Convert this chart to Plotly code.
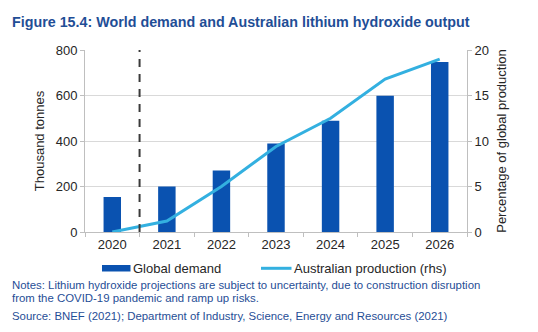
import plotly.graph_objects as go

years = ["2020", "2021", "2022", "2023", "2024", "2025", "2026"]
global_demand = [154, 200, 270, 389, 489, 599, 747]
aus_share = [0.0, 1.2, 5.0, 9.4, 12.5, 16.8, 19.0]

FONT = "Liberation Sans, Arial, sans-serif"
TXT = "#262626"
BLUE_T = "#1f4e96"
BAR_C = "#0a52b0"
LINE_C = "#33b0e0"

# plot area in pixels
L, R, T, B = 85, 467, 50, 232
PW, PH = R - L, B - T


def px(x):
    return (x - L) / PW


def py(y):
    return (B - y) / PH


fig = go.Figure()
fig.add_trace(go.Bar(x=years, y=global_demand, name="Global demand",
                     marker=dict(color=BAR_C, line=dict(width=0)),
                     width=0.32, showlegend=False))
fig.add_trace(go.Scatter(x=years, y=aus_share, name="Australian production (rhs)",
                         yaxis="y2", mode="lines", showlegend=False,
                         line=dict(color=LINE_C, width=3)))

fig.add_shape(type="line", xref="x", yref="y", x0=0.5, x1=0.5, y0=0, y1=800,
              line=dict(color="#3a3a3a", width=2, dash="8px,7px"))

# legend (drawn manually)
fig.add_shape(type="rect", xref="paper", yref="paper",
              x0=px(102), x1=px(130.5), y0=py(271.5), y1=py(265),
              fillcolor=BAR_C, line=dict(width=0))
fig.add_shape(type="line", xref="paper", yref="paper",
              x0=px(261), x1=px(291.5), y0=py(268.3), y1=py(268.3),
              line=dict(color=LINE_C, width=3))
fig.add_annotation(xref="paper", yref="paper", x=px(131), y=py(268), xanchor="left", yanchor="middle",
                   text="Global demand", showarrow=False,
                   font=dict(size=13, color=TXT, family=FONT))
fig.add_annotation(xref="paper", yref="paper", x=px(291.5), y=py(268), xanchor="left", yanchor="middle",
                   text="Australian production (rhs)", showarrow=False,
                   font=dict(size=13, color=TXT, family=FONT))

fig.update_layout(
    width=538, height=332,
    margin=dict(l=L, r=538 - R, t=T, b=332 - B),
    paper_bgcolor="white", plot_bgcolor="white",
    font=dict(family=FONT, color=TXT, size=13),
    showlegend=False,
    xaxis=dict(type="category", tickson="boundaries", ticks="outside", ticklen=4,
               tickcolor="#bfbfbf", showline=True, linecolor="#bfbfbf",
               tickfont=dict(size=13, color=TXT), showgrid=False,
               range=[-0.5, 6.5]),
    yaxis=dict(range=[0, 800], tickvals=[0, 200, 400, 600, 800], ticks="outside",
               ticklen=4, tickcolor="#bfbfbf", showline=True, linecolor="#bfbfbf",
               gridcolor="#d9d9d9", gridwidth=1, zeroline=False,
               tickfont=dict(size=13, color=TXT),
               title=dict(text="Thousand tonnes", font=dict(size=13, color=TXT), standoff=8)),
    yaxis2=dict(range=[0, 20], tickvals=[0, 5, 10, 15, 20], overlaying="y", side="right",
                ticks="outside", ticklen=4, tickcolor="#bfbfbf", showline=True,
                linecolor="#bfbfbf", showgrid=False, zeroline=False,
                tickfont=dict(size=13, color=TXT),
                title=dict(text="Percentage of global production", font=dict(size=13, color=TXT), standoff=8)),
)

fig.add_annotation(xref="paper", yref="paper", x=px(10), y=py(22), xanchor="left", yanchor="middle",
                   text="<b>Figure 15.4: World demand and Australian lithium hydroxide output</b>",
                   showarrow=False, font=dict(size=14.3, color=BLUE_T, family=FONT))
notes = [
    ("Notes: Lithium hydroxide projections are subject to uncertainty, due to construction disruption", 285),
    ("from the COVID-19 pandemic and ramp up risks.", 298),
    ("Source: BNEF (2021); Department of Industry, Science, Energy and Resources (2021)", 316),
]
for txt, yy in notes:
    fig.add_annotation(xref="paper", yref="paper", x=px(10), y=py(yy), xanchor="left", yanchor="middle",
                       text=txt, showarrow=False, font=dict(size=11.4, color=BLUE_T, family=FONT))

fig.write_html("out.html")
